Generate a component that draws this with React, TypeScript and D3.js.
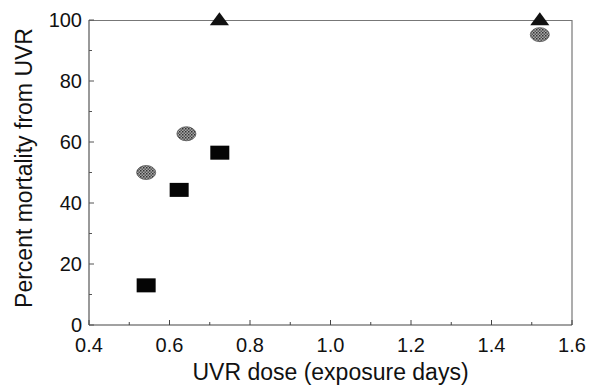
import React, { useRef, useEffect } from 'react';
import * as d3 from 'd3';

// data
const circles = [
  { dose: 0.542, mortality: 50 },
  { dose: 0.642, mortality: 62.7 },
  { dose: 1.52, mortality: 95.2 },
];
const squares = [
  { dose: 0.542, mortality: 13 },
  { dose: 0.624, mortality: 44.3 },
  { dose: 0.725, mortality: 56.5 },
];
const triangles = [
  { dose: 0.724, mortality: 100 },
  { dose: 1.52, mortality: 100 },
];
const xTicks = [0.4, 0.6, 0.8, 1.0, 1.2, 1.4, 1.6];
const yTicks = [0, 20, 40, 60, 80, 100];

const App = () => {
  const svgRef = useRef<SVGSVGElement>(null);

  useEffect(() => {
    const margin = { top: 20, right: 17, bottom: 61, left: 89 };
    const W = 589;
    const H = 386;
    const width = W - margin.left - margin.right;
    const height = H - margin.top - margin.bottom;
    const font = '"Liberation Sans", Arial, sans-serif';

    const svg = d3.select(svgRef.current);
    svg.selectAll('*').remove();
    svg.attr('width', W).attr('height', H);

    const defs = svg.append('defs');
    const pat = defs
      .append('pattern')
      .attr('id', 'stipple')
      .attr('width', 3)
      .attr('height', 3)
      .attr('patternUnits', 'userSpaceOnUse');
    pat.append('rect').attr('width', 3).attr('height', 3).attr('fill', '#a8a8a8');
    pat.append('rect').attr('width', 1.5).attr('height', 1.5).attr('fill', '#333');
    pat.append('rect').attr('x', 1.5).attr('y', 1.5).attr('width', 1.5).attr('height', 1.5).attr('fill', '#555');

    const chart = svg.append('g').attr('transform', `translate(${margin.left},${margin.top})`);

    const x = d3.scaleLinear().domain([0.4, 1.6]).range([0, width]);
    const y = d3.scaleLinear().domain([0, 100]).range([height, 0]);

    // frame top and right
    chart
      .append('path')
      .attr('d', `M0,0.5H${width}V${height}`)
      .attr('fill', 'none')
      .attr('stroke', '#777')
      .attr('stroke-width', 1.2);

    // bottom axis
    const xAxis = chart.append('g').attr('transform', `translate(0,${height})`);
    xAxis
      .append('line')
      .attr('x1', 0)
      .attr('x2', width)
      .attr('stroke', '#444')
      .attr('stroke-width', 1.2);
    const xMinor = d3.range(0.5, 1.6, 0.2);
    xAxis
      .selectAll('.xminor')
      .data(xMinor)
      .enter()
      .append('line')
      .attr('x1', d => x(d))
      .attr('x2', d => x(d))
      .attr('y1', 0)
      .attr('y2', -3)
      .attr('stroke', '#444');
    xAxis
      .selectAll('.xmajor')
      .data(xTicks)
      .enter()
      .append('line')
      .attr('x1', d => x(d))
      .attr('x2', d => x(d))
      .attr('y1', 0)
      .attr('y2', -5)
      .attr('stroke', '#444');
    xAxis
      .selectAll('text')
      .data(xTicks)
      .enter()
      .append('text')
      .attr('x', d => x(d))
      .attr('y', 27)
      .attr('text-anchor', 'middle')
      .attr('font-family', font)
      .attr('font-size', 20)
      .attr('fill', '#111')
      .text(d => d.toFixed(1));

    // left axis
    const yAxis = chart.append('g');
    yAxis
      .append('line')
      .attr('y1', 0)
      .attr('y2', height)
      .attr('stroke', '#555')
      .attr('stroke-width', 1.2);
    const yMinor = d3.range(10, 100, 20);
    yAxis
      .selectAll('.yminor')
      .data(yMinor)
      .enter()
      .append('line')
      .attr('y1', d => y(d))
      .attr('y2', d => y(d))
      .attr('x1', 0)
      .attr('x2', 3)
      .attr('stroke', '#555');
    yAxis
      .selectAll('.ymajor')
      .data(yTicks)
      .enter()
      .append('line')
      .attr('y1', d => y(d))
      .attr('y2', d => y(d))
      .attr('x1', 0)
      .attr('x2', 5)
      .attr('stroke', '#555');
    yAxis
      .selectAll('text')
      .data(yTicks)
      .enter()
      .append('text')
      .attr('x', -7)
      .attr('y', d => y(d))
      .attr('dy', '0.36em')
      .attr('text-anchor', 'end')
      .attr('font-family', font)
      .attr('font-size', 20)
      .attr('fill', '#111')
      .text(d => d);

    // axis titles
    chart
      .append('text')
      .attr('x', width / 2)
      .attr('y', height + 55)
      .attr('text-anchor', 'middle')
      .attr('font-family', font)
      .attr('font-size', 23)
      .attr('fill', '#111')
      .text('UVR dose (exposure days)');
    chart
      .append('text')
      .attr('transform', `translate(${-57},${height / 2 - 4.5}) rotate(-90)`)
      .attr('text-anchor', 'middle')
      .attr('font-family', font)
      .attr('font-size', 23)
      .attr('fill', '#111')
      .text('Percent mortality from UVR');

    // markers
    chart
      .selectAll('.circ')
      .data(circles)
      .enter()
      .append('ellipse')
      .attr('cx', d => x(d.dose))
      .attr('cy', d => y(d.mortality))
      .attr('rx', 9.5)
      .attr('ry', 7)
      .attr('fill', 'url(#stipple)')
      .attr('stroke', '#555')
      .attr('stroke-width', 0.8);

    chart
      .selectAll('.sq')
      .data(squares)
      .enter()
      .append('rect')
      .attr('x', d => x(d.dose) - 9.5)
      .attr('y', d => y(d.mortality) - 7)
      .attr('width', 19)
      .attr('height', 14)
      .attr('fill', '#050505');

    const tri = d3.symbol().type(d3.symbolTriangle).size(110);
    chart
      .selectAll('.tri')
      .data(triangles)
      .enter()
      .append('path')
      .attr('d', tri)
      .attr('transform', d => `translate(${x(d.dose)},${y(d.mortality) + 1}) scale(1.2,0.95)`)
      .attr('fill', '#111');
  }, []);

  return <svg ref={svgRef} style={{ display: 'block', position: 'absolute', left: 0, top: 0 }}></svg>;
};

export default App;
